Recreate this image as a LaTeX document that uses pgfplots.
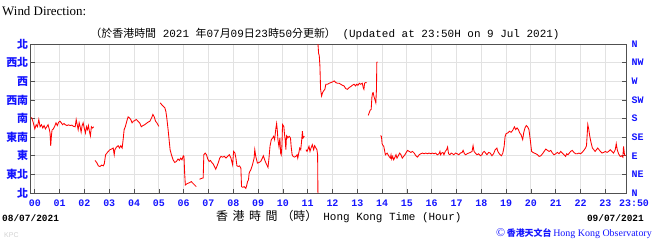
\documentclass[border=0pt]{standalone}
\usepackage{fontspec}
\usepackage{pgfplots}
\pgfplotsset{compat=1.18}
\setmainfont{Liberation Serif}
\newfontfamily\mono{Liberation Mono}
\newfontfamily\cjk{Noto Sans CJK TC}
\newfontfamily\sans{Liberation Sans}
\definecolor{lblue}{RGB}{20,20,255}
\definecolor{gridc}{RGB}{226,226,226}
\definecolor{axc}{RGB}{80,80,80}

\pgfplotstableread{
h d
-0.133 183
-0.08 173.5
0 155
0.053 165
0.107 160
0.16 177.6
0.213 160
0.267 165
0.32 157
0.373 163
0.427 155
0.48 160
0.533 165
0.587 153
0.613 145
0.64 114
0.667 137
0.693 152
0.747 155
0.8 161
0.853 169.5
0.907 163
0.96 171
1.013 173.5
1.067 169.5
1.12 165
1.173 168
1.227 165
1.293 163
1.36 164.6
1.427 163
1.493 164
1.56 161
1.627 160
1.667 177.6
1.707 165
1.747 153
1.787 169.5
1.827 160
1.867 147
1.907 163
1.947 169.5
2.0 155
2.04 145
2.08 160
2.12 153
2.16 163
2.2 149
2.24 138
2.28 160
2.32 157
2.373 160
nan nan
2.427 78.6
2.493 73.8
2.56 65.6
2.627 64
2.693 67.3
2.76 65.6
2.8 70.5
2.853 92.4
2.907 96.5
2.96 100.5
3.027 104.6
3.093 106.2
3.16 108.6
3.2 92.4
3.227 104.6
3.293 111
3.36 114.3
3.413 108.6
3.467 114.3
3.52 108.6
3.56 129
3.6 153
3.653 161
3.707 173.5
3.76 184
3.813 181.6
3.867 177.6
3.92 169.5
3.973 173.5
4.027 175
4.093 177.6
4.16 173.5
4.227 169.5
4.293 160
4.36 163
4.427 165
4.493 168
4.56 171
4.64 173.5
4.707 181.6
4.76 189.7
4.813 184
4.867 173.5
4.92 169.5
5.0 161
nan nan
5.053 218
5.107 214
5.173 210
5.24 206
5.28 197.8
5.32 181.6
5.373 153
5.413 129
5.453 104.6
5.507 92.4
5.573 80.2
5.64 73.8
5.707 76.2
5.773 82
5.827 78.6
5.88 84.3
5.933 80.2
5.987 90
6.013 88.4
6.04 47.8
6.067 19.4
6.12 21.9
6.173 23.5
6.24 25.1
6.307 27.5
6.373 23.5
6.44 19.4
6.507 15.4
nan nan
6.64 33.2
6.733 35.6
6.787 36.4
6.813 92.4
6.867 96.5
6.92 92.4
6.973 81.9
7.027 76.2
7.08 78.6
7.133 73.8
7.187 70.5
7.24 64
7.293 57.5
7.347 65.6
7.4 73.8
7.453 84.3
7.507 88.4
7.573 86.7
7.64 88.4
7.707 84.3
7.773 88.4
7.84 92.4
7.907 84.3
7.973 68.1
8.013 100.5
8.067 96.5
8.107 84.3
8.147 65.6
8.2 64
8.253 65.6
8.307 60
8.333 15.4
8.387 13.7
8.44 15.4
8.507 11.3
8.547 19.4
8.573 27.5
8.613 31.6
8.64 47.8
8.667 51.9
8.707 55.9
8.773 68.1
8.84 84.3
8.867 104.6
8.907 88.4
8.973 72.1
9.04 73.8
9.107 76.2
9.173 84.3
9.213 90
9.267 80
9.32 72
9.4 62
9.44 84.3
9.48 112.7
9.533 128.9
9.587 133
9.627 137
9.667 128.9
9.72 157.3
9.747 167.8
9.773 153.2
9.8 128.9
9.84 112.7
9.88 133
9.907 96.5
9.933 92.4
9.96 112.7
9.987 165.4
10.013 163
10.04 159.7
10.067 141.1
10.093 128.9
10.12 104.6
10.147 138.6
10.173 137
10.2 133
10.253 137
10.307 133
10.333 112.7
10.373 92.4
10.413 88.4
10.467 86.7
10.52 88.4
10.573 92.4
10.6 84.3
10.64 96.5
10.68 108.6
10.72 104.6
10.76 128.9
10.787 149.2
10.813 133
10.84 135.4
10.867 137
nan nan
10.933 104.6
10.973 100.5
11.013 106.2
11.053 112.7
11.093 100.5
11.133 108.6
11.187 116.7
11.24 104.6
11.28 114.3
11.333 108.6
11.373 104.6
11.4 92.4
11.413 0
nan nan
11.415 360
11.44 337.5
11.467 331.7
11.493 307.3
11.52 250.6
11.56 234.3
11.6 242.4
11.64 246.5
11.693 250.6
11.733 262.7
11.8 262.7
11.867 265.2
11.933 266.8
12.0 268.4
12.067 270.8
12.133 266.8
12.2 265.2
12.267 265.2
12.333 262.7
12.4 260.3
12.467 258.7
12.533 252.2
12.6 250.6
12.667 254.6
12.733 257
12.8 260.3
12.867 262.7
12.933 258.7
12.973 262.7
13.027 260.3
13.08 265.2
13.133 262.7
13.2 265.2
13.24 254.6
13.267 250.6
13.293 265.2
13.333 266.8
13.373 266.8
nan nan
13.44 187.3
13.48 193.8
13.52 200.3
13.56 201.9
13.587 230.3
13.613 240.8
13.64 242.4
13.667 234.3
13.707 226.2
13.747 218.1
13.773 250.6
13.787 315.4
13.813 317
nan nan
13.933 138.6
13.973 137
14.0 119.2
14.04 114.3
14.067 112.7
14.133 92.4
14.2 96.5
14.28 88.4
14.333 84.3
14.36 92.4
14.387 81.9
14.427 88.4
14.467 80.2
14.52 86.7
14.56 92.4
14.6 84.3
14.653 90
14.707 96.5
14.76 92.4
14.813 84.3
14.867 88.4
14.92 92.4
14.973 98.1
15.027 103
15.093 100.5
15.16 98.1
15.227 100.5
15.293 96.5
15.36 90
15.427 86.7
15.493 92.4
15.56 94.8
15.627 96.5
15.693 94.8
15.76 96.5
15.827 94.8
15.893 96.5
15.96 94.8
16.027 96.5
16.093 94.8
16.16 96.5
16.227 92.4
16.293 94.8
16.333 100.5
16.36 92.4
16.4 96.5
16.453 98.1
16.493 92.4
16.547 100.5
16.6 104.6
16.64 111
16.68 94.8
16.733 92.4
16.787 96.5
16.84 94.8
16.893 92.4
16.96 96.5
17.027 94.8
17.093 92.4
17.16 96.5
17.227 98.1
17.267 103
17.32 94.8
17.373 92.4
17.427 94.8
17.493 96.5
17.56 98.1
17.627 100.5
17.667 114.3
17.707 100.5
17.76 96.5
17.827 92.4
17.893 94.8
17.96 90
18.027 92.4
18.067 98.1
18.12 100.5
18.173 96.5
18.227 92.4
18.293 98.1
18.36 96.5
18.427 90
18.493 94.8
18.56 104.6
18.627 108.6
18.667 100.5
18.707 96.5
18.76 92.4
18.813 90
18.867 96.5
18.92 112.7
18.96 137
19.0 143.5
19.067 145.1
19.133 149.2
19.2 146.7
19.267 151.6
19.333 159.7
19.387 153.2
19.44 157.3
19.493 153.2
19.547 145.1
19.6 141.1
19.667 128.9
19.707 145.1
19.76 157.3
19.813 163
19.867 159.7
19.92 153.2
19.973 128.9
20.027 100.5
20.08 98.1
20.133 96.5
20.2 94.8
20.267 92.4
20.333 88.4
20.4 90
20.467 94.8
20.533 100.5
20.6 106.2
20.667 103
20.733 100.5
20.8 103
20.867 96.5
20.933 92.4
21.0 94.8
21.067 98.1
21.133 94.8
21.2 100.5
21.267 96.5
21.333 92.4
21.4 88.4
21.44 94.8
21.493 92.4
21.547 96.5
21.6 100.5
21.667 103
21.733 98.1
21.8 94.8
21.867 94.8
21.933 96.5
22.0 94.8
22.067 98.1
22.133 103
22.2 108.6
22.24 114.3
22.293 165.4
22.333 153.2
22.373 137
22.427 120.8
22.48 108.6
22.533 104.6
22.587 100.5
22.64 104.6
22.693 108.6
22.747 104.6
22.8 100.5
22.867 96.5
22.933 98.1
23.0 100.5
23.067 98.1
23.133 100.5
23.2 104.6
23.267 100.5
23.333 96.5
23.4 104.6
23.44 119.2
23.48 104.6
23.533 94.8
23.6 88.4
23.653 90
23.707 86.7
23.733 112.7
23.773 92.4
23.813 90
}\winddata

\begin{document}
\begin{tikzpicture}[x=1bp,y=1bp]
\useasboundingbox (0,0) rectangle (656,242);
\begin{axis}[
  at={(30.7bp,49bp)}, anchor=south west,
  scale only axis, width=595.3bp, height=149bp,
  xmin=-0.16667, xmax=23.83333, ymin=0, ymax=360,
  xtick={0,...,23},
  xticklabels={00,01,02,03,04,05,06,07,08,09,10,11,12,13,14,15,16,17,18,19,20,21,22,23},
  extra x ticks={23.83333}, extra x tick labels={23:50},
  extra x tick style={grid=none, xticklabel style={xshift=8bp}},
  ytick={0,45,...,360},
  yticklabels={北,東北,東,東南,南,西南,西,西北,北},
  grid=major, major grid style={draw=gridc, line width=0.9bp},
  tick align=inside, xtick pos=bottom, ytick pos=both,
  major tick length=4bp,
  tick style={draw=axc, line width=0.7bp},
  axis line style={draw=axc, line width=1bp},
  xticklabel style={font=\mono\bfseries\fontsize{10}{10}\selectfont, text=lblue, yshift=-3.5bp},
  yticklabel style={font=\cjk\bfseries\fontsize{11}{11}\selectfont, text=lblue, xshift=1bp},
  unbounded coords=jump,
]
\addplot[draw=red, line width=0.85bp] table[x=h, y=d] {\winddata};
\end{axis}
\begin{axis}[
  at={(30.7bp,49bp)}, anchor=south west,
  scale only axis, width=595.3bp, height=149bp,
  xmin=-0.16667, xmax=23.83333, ymin=0, ymax=360,
  hide x axis, axis y line*=right,
  axis line style={draw=none},
  ytick={0,45,...,360},
  yticklabels={N,NE,E,SE,S,SW,W,NW,N},
  major tick length=0pt,
  yticklabel style={font=\mono\bfseries\fontsize{10}{10}\selectfont, text=lblue, xshift=2bp},
]
\end{axis}
\node[anchor=west, font=\fontsize{13}{13}\selectfont, inner sep=0pt] at (2,231) {Wind Direction:};
\node[inner sep=0pt] at (325,208.5) {{\cjk\fontsize{11}{11}\selectfont （於香港時間}{\mono\fontsize{11}{11}\selectfont \ 2021 }{\cjk\fontsize{11}{11}\selectfont 年}{\mono\fontsize{11}{11}\selectfont 07}{\cjk\fontsize{11}{11}\selectfont 月}{\mono\fontsize{11}{11}\selectfont 09}{\cjk\fontsize{11}{11}\selectfont 日}{\mono\fontsize{11}{11}\selectfont 23}{\cjk\fontsize{11}{11}\selectfont 時}{\mono\fontsize{11}{11}\selectfont 50}{\cjk\fontsize{11}{11}\selectfont 分更新）}{\mono\fontsize{11}{11}\selectfont \ (Updated at 23:50H on 9 Jul 2021)}};
\node[anchor=west, inner sep=0pt, font=\mono\bfseries\fontsize{9.5}{9.5}\selectfont] at (2,24) {08/07/2021};
\node[anchor=east, inner sep=0pt, font=\mono\bfseries\fontsize{9.5}{9.5}\selectfont] at (644,24) {09/07/2021};
\node[anchor=west, inner sep=0pt] at (216,25) {{\cjk\fontsize{12}{12}\selectfont 香\hspace{4.5bp}港\hspace{4.5bp}時\hspace{4.5bp}間\hspace{4bp}（時）}\hspace{6bp}{\mono\fontsize{11}{11}\selectfont Hong Kong Time (Hour)}};
\node[anchor=west, inner sep=0pt, text=black!18, font=\sans\fontsize{7}{7}\selectfont] at (4,7) {KPC};
\node[anchor=east, inner sep=0pt, text=lblue] at (652,8) {{\fontsize{12}{12}\selectfont ©}\,{\cjk\bfseries\fontsize{9}{9}\selectfont 香港天文台}\,{\fontsize{10}{10}\selectfont Hong Kong Observatory}};
\end{tikzpicture}
\end{document}
